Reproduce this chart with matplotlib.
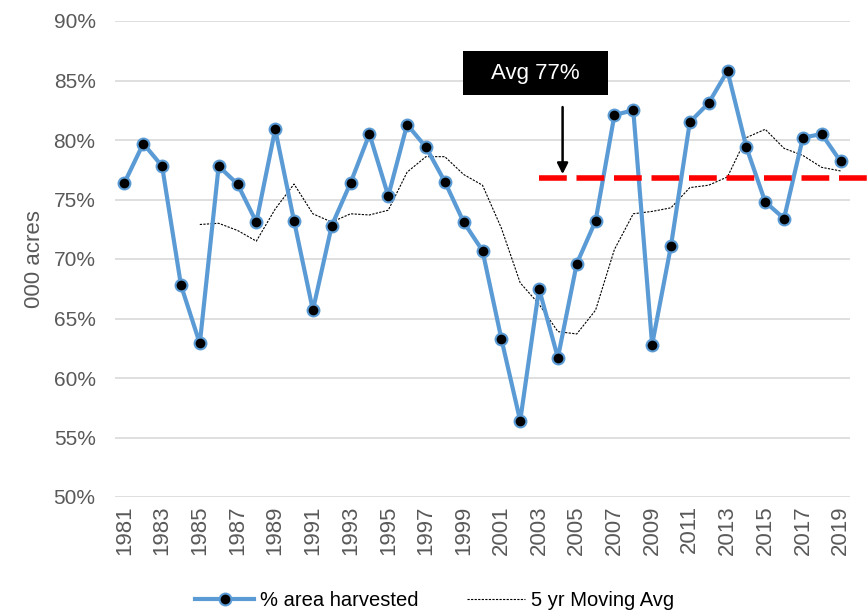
import matplotlib
matplotlib.use('Agg')
import matplotlib.pyplot as plt
from matplotlib.patches import Rectangle
from matplotlib.ticker import FuncFormatter

plt.rcParams['font.family'] = ['Liberation Sans', 'DejaVu Sans']

years = list(range(1981, 2020))
pct_harvested = [76.4, 79.7, 77.8, 67.8, 62.9, 77.8, 76.3, 73.1, 80.9, 73.2,
                 65.7, 72.8, 76.4, 80.5, 75.3, 81.3, 79.4, 76.5, 73.1, 70.7,
                 63.3, 56.4, 67.5, 61.7, 69.6, 73.2, 82.1, 82.5, 62.8, 71.1,
                 81.5, 83.1, 85.8, 79.4, 74.8, 73.4, 80.2, 80.5, 78.2]
ma_years = list(range(1985, 2020))
moving_avg = [72.9, 73.0, 72.4, 71.5, 74.2, 76.3, 73.8, 73.1, 73.8, 73.7,
              74.1, 77.3, 78.6, 78.6, 77.1, 76.2, 72.6, 68.0, 66.2, 63.9,
              63.7, 65.7, 70.8, 73.8, 74.0, 74.3, 76.0, 76.2, 76.9, 80.2,
              80.9, 79.3, 78.7, 77.7, 77.4]
avg_value = 76.8
avg_label = 'Avg 77%'

grey = '#595959'
fig = plt.figure(figsize=(8.67, 6.13), dpi=100)
ax = fig.add_axes([115 / 867, 116 / 613, 735 / 867, 476 / 613])

ax.plot(years, pct_harvested, color='#5B9BD5', lw=3, marker='o', ms=8.5,
        mfc='black', mec='#5B9BD5', mew=1.5, label='% area harvested', zorder=3)
ax.plot(ma_years, moving_avg, color='black', lw=0.8, ls=(0, (2, 1.2)),
        label='5 yr Moving Avg', zorder=2)
ax.plot([2003, 2020.4], [avg_value, avg_value], color='red', lw=4,
        ls=(0, (5, 1.75)), clip_on=False, zorder=4)

ax.set_xlim(1980.5, 2019.5)
ax.set_ylim(50, 90)
ax.set_yticks(range(50, 91, 5))
ax.yaxis.set_major_formatter(FuncFormatter(lambda v, p: '%d%%' % v))
ax.set_xticks(years[::2])
ax.tick_params(axis='x', labelrotation=90, length=0, labelsize=16, labelcolor=grey, pad=6)
ax.tick_params(axis='y', length=0, labelsize=15, labelcolor=grey, pad=14)
ax.grid(axis='y', color='#D9D9D9', lw=1.2)
ax.set_axisbelow(True)
for s in ax.spines.values():
    s.set_visible(False)
ax.set_ylabel('000 acres', fontsize=16, color=grey, labelpad=6)

# annotation box + arrow
ax.add_patch(Rectangle((1998.97, 83.78), 7.7, 3.7, fc='black', ec='none',
                       clip_on=False, zorder=5))
ax.text(2002.8, 85.63, avg_label, color='white', fontsize=16, ha='center',
        va='center', zorder=6)
ax.annotate('', xy=(2004.25, avg_value + 0.1), xytext=(2004.25, 83.0),
            arrowprops=dict(arrowstyle='-|>', color='black', lw=1.8, mutation_scale=16))

ax.legend(loc='upper center', bbox_to_anchor=(0.435, -0.16), ncol=2, frameon=False,
          fontsize=14.5, labelcolor='black', handlelength=2.9, columnspacing=2.4,
          handletextpad=0.3)

fig.savefig('out.png', dpi=100)
